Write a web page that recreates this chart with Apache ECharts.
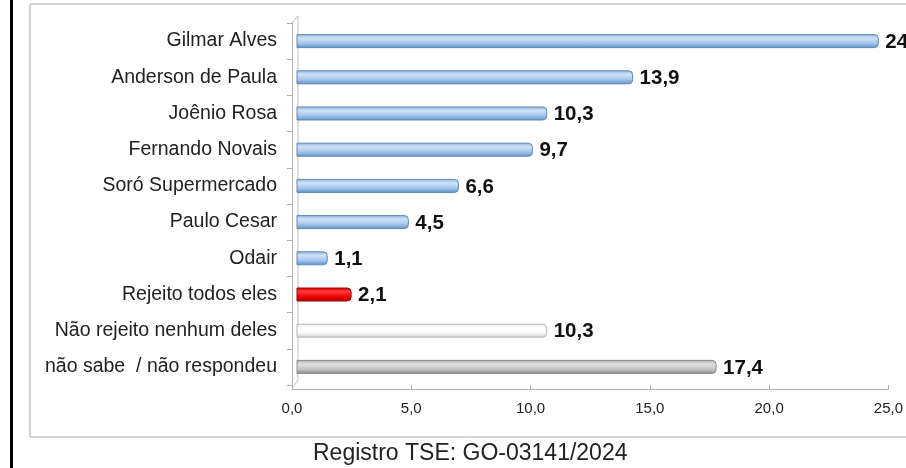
<!DOCTYPE html>
<html><head><meta charset="utf-8">
<script src="https://cdn.jsdelivr.net/npm/echarts@6/dist/echarts.min.js"></script>
<style>html,body{margin:0;padding:0;background:#fff}#c{width:906px;height:468px}</style>
</head><body><div id="c"></div>
<script>
const categories = ["Gilmar Alves","Anderson de Paula","Joênio Rosa","Fernando Novais","Soró Supermercado","Paulo Cesar","Odair","Rejeito todos eles","Não rejeito nenhum deles","não sabe  / não respondeu"];
const values = [24.2,13.9,10.3,9.7,6.6,4.5,1.1,2.1,10.3,17.4];
const barKinds = ["blue","blue","blue","blue","blue","blue","blue","red","white","gray"];
const xTicks = [0,5,10,15,20,25];
const footer = "Registro TSE: GO-03141/2024";

function grad(c){
  const g = echarts.graphic.LinearGradient;
  if(c==="blue") return {fill:new g(0,0,0,1,[{offset:0,color:'#8db4df'},{offset:0.3,color:'#cfe2f6'},{offset:0.65,color:'#a3c7ec'},{offset:1,color:'#5f8fc4'}]),stroke:'#6088b6'};
  if(c==="red") return {fill:new g(0,0,0,1,[{offset:0,color:'#d40000'},{offset:0.3,color:'#ff3c3c'},{offset:0.65,color:'#f00000'},{offset:1,color:'#a80000'}]),stroke:'#a00000'};
  if(c==="white") return {fill:new g(0,0,0,1,[{offset:0,color:'#e6e6e6'},{offset:0.3,color:'#ffffff'},{offset:0.65,color:'#fbfbfb'},{offset:1,color:'#cdcdcd'}]),stroke:'#b5b5b5'};
  return {fill:new g(0,0,0,1,[{offset:0,color:'#ababab'},{offset:0.3,color:'#e0e0e0'},{offset:0.65,color:'#c6c6c6'},{offset:1,color:'#8a8a8a'}]),stroke:'#8c8c8c'};
}
const fmt = v => v.toFixed(1).replace('.',',');

const chart = echarts.init(document.getElementById('c'));
chart.setOption({
  animation:false,
  grid:{left:292,right:9,top:23,bottom:83,containLabel:false},
  xAxis:{type:'value',min:0,max:25,interval:5,offset:4,
    axisLine:{show:true,lineStyle:{color:'#b0b0b0'}},
    axisTick:{show:true,inside:true,length:4,lineStyle:{color:'#b0b0b0'}},
    splitLine:{show:false},
    axisLabel:{color:'#222',fontSize:15,fontFamily:'Liberation Sans, Arial, sans-serif',margin:12,
      formatter:v=>fmt(v)}},
  yAxis:{type:'category',inverse:true,data:categories,
    axisLine:{show:true,lineStyle:{color:'#b0b0b0'}},
    axisTick:{show:true,length:5,lineStyle:{color:'#b0b0b0'}},
    axisLabel:{color:'#222',fontSize:19.5,fontFamily:'Liberation Sans, Arial, sans-serif',margin:15}},
  series:[{type:'custom',
    encode:{x:0,y:1},
    data:values.map((v,i)=>[v,i]),
    renderItem:(params,api)=>{
      const i = api.value(1), v = api.value(0);
      const s = api.coord([0,i]), e = api.coord([v,i]);
      const h = 13, x0 = s[0]+5, x1 = e[0]+9, y0 = s[1]-h/2;
      const g = grad(barKinds[i]);
      return {type:'group',children:[
        {type:'rect',shape:{x:x0,y:y0,width:x1-x0,height:h,r:[0,4,4,0]},style:{fill:g.fill,stroke:g.stroke,lineWidth:1}},
        {type:'text',style:{x:x1+7,y:s[1]+1,text:fmt(v),fill:'#111',font:'bold 20.5px "Liberation Sans", Arial, sans-serif',verticalAlign:'middle',align:'left'}}
      ]};
    }
  }],
  graphic:[
    {type:'rect',shape:{x:10,y:-2,width:3,height:480},style:{fill:'#000'}},
    {type:'rect',shape:{x:30,y:4,width:900,height:433},style:{fill:'none',stroke:'#a8a8a8',lineWidth:1},z:-1},
    {type:'polyline',shape:{points:[[292,23],[298,16],[298,380],[292,389]]},style:{fill:'none',stroke:'#c0c0c0',lineWidth:1},z:-1},
    {type:'text',left:313,top:442,style:{text:footer,fontSize:23,fill:'#222',fontFamily:'Liberation Sans, Arial, sans-serif'}}
  ]
});
</script></body></html>
